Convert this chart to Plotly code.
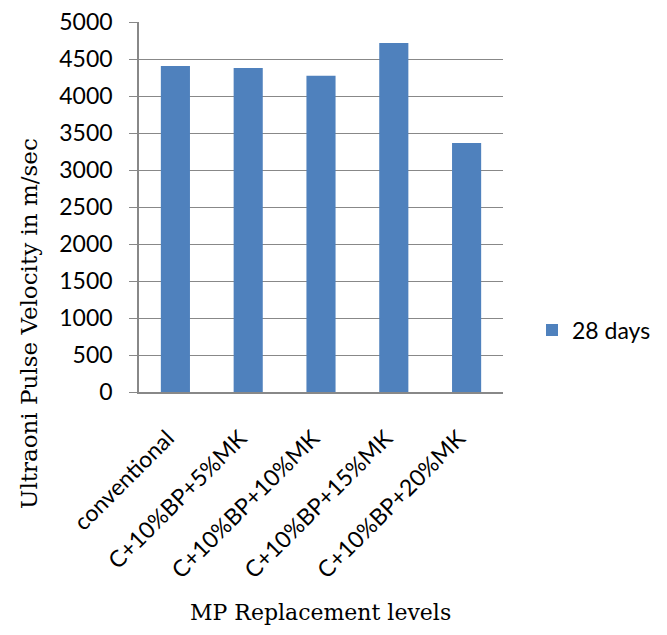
import plotly.graph_objects as go

categories = ["conventional", "C+10%BP+5%MK", "C+10%BP+10%MK", "C+10%BP+15%MK", "C+10%BP+20%MK"]
values_28 = [4405, 4378, 4274, 4716, 3365]
series_name = "28 days"
y_ticks = [0, 500, 1000, 1500, 2000, 2500, 3000, 3500, 4000, 4500, 5000]

# page body has an 8px margin; figure coordinates are offset from screen by 8px
W, H = 651, 619
L, R, T, B = 131, 156, 14, 235
plot_w = W - L - R
plot_h = H - T - B


def px(x):
    return (x - L) / plot_w


def py(y):
    return (H - B - y) / plot_h


fig = go.Figure()
fig.add_trace(go.Bar(x=categories, y=values_28, name=series_name,
                     marker=dict(color="#4F81BD", line=dict(color="#4F81BD", width=0))))

ytick_font = dict(family="Lato, Open Sans, sans-serif", size=23, color="#000000")
xtick_font = dict(family="Lato, Open Sans, sans-serif", size=23, color="#000000")
serif_y = dict(family="DejaVu Serif, serif", size=23, color="#000000")
serif_x = dict(family="DejaVu Serif, serif", size=22, color="#000000")

fig.update_layout(
    width=W, height=H,
    margin=dict(l=L, r=R, t=T, b=B, autoexpand=False),
    paper_bgcolor="white", plot_bgcolor="white",
    bargap=0.6,
    showlegend=True,
    legend=dict(x=px(524), y=py(322), xanchor="left", yanchor="middle",
                font=dict(family="Lato, Open Sans, sans-serif", size=23, color="#000000"),
                bgcolor="rgba(0,0,0,0)"),
    xaxis=dict(showline=True, linecolor="#888888", linewidth=1.5, ticks="",
               tickangle=-45, tickfont=xtick_font, showgrid=False, automargin=False,
               ticklabelstandoff=22, ticklabelshift=-8, ticklabeloverflow="allow"),
    yaxis=dict(range=[0, 5000], tickvals=y_ticks, showgrid=True, gridcolor="#888888",
               gridwidth=1.2, showline=True, linecolor="#888888", linewidth=1.5,
               ticks="outside", ticklen=8, tickcolor="#888888", tickfont=ytick_font,
               zeroline=False, automargin=False, ticklabelstandoff=12,
               ticklabeloverflow="allow"),
    annotations=[
        dict(text="Ultraoni Pulse Velocity in m/sec", x=px(21), y=py(316),
             xref="paper", yref="paper",
             showarrow=False, textangle=-90, font=serif_y, xanchor="center", yanchor="middle"),
        dict(text="MP Replacement levels", x=px(312), y=py(604),
             xref="paper", yref="paper",
             showarrow=False, font=serif_x, xanchor="center", yanchor="middle"),
    ],
)

fig.write_html("out.html")
